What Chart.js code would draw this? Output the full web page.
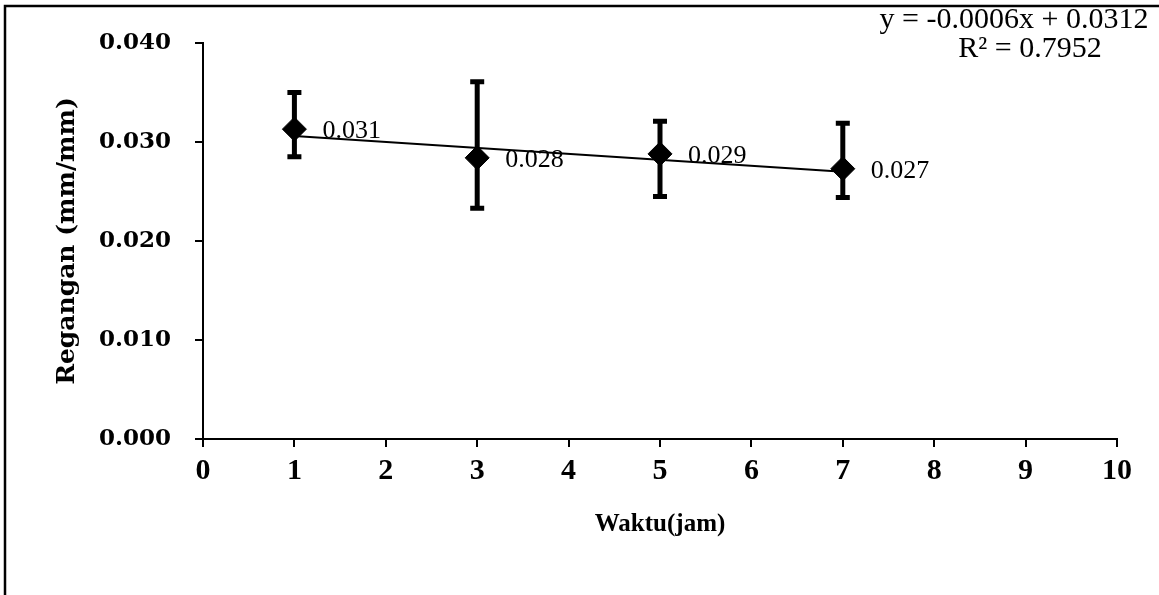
<!DOCTYPE html>
<html>
<head>
<meta charset="utf-8">
<title>Regangan vs Waktu</title>
<script src="https://cdn.jsdelivr.net/npm/chart.js@4.4.0/dist/chart.umd.min.js"></script>
<style>
  html, body { margin: 0; padding: 0; background: #fff; }
  #wrap { width: 1159px; height: 595px; }
</style>
</head>
<body>
<div id="wrap"><canvas id="chart" width="1159" height="595"></canvas></div>
<script>
// data regangan per waktu pengujian
const waktu = [1, 3, 5, 7];
const regangan = [0.0313, 0.0284, 0.0288, 0.0273];
const batasAtas = [0.0352, 0.0363, 0.0323, 0.0321];
const batasBawah = [0.0283, 0.0231, 0.0243, 0.0242];

const xTicks = [0, 1, 2, 3, 4, 5, 6, 7, 8, 9, 10];
const yTicks = [0.000, 0.010, 0.020, 0.030, 0.040];

// garis tren linear
const trenSlope = -0.0006;
const trenIntercept = 0.0312;
const trenR2 = 0.7952;
const trenX = [1, 7];

const SERIF = '"Liberation Serif", "Times New Roman", serif';
const SERIF_LEBAR = '"DejaVu Serif", serif';

// bingkai luar grafik
const bingkaiPlugin = {
  id: 'bingkai',
  beforeDraw(chart) {
    const ctx = chart.ctx;
    ctx.save();
    ctx.fillStyle = '#fff';
    ctx.fillRect(0, 0, chart.width, chart.height);
    ctx.strokeStyle = '#000';
    ctx.lineWidth = 2.5;
    ctx.beginPath();
    ctx.moveTo(5, chart.height);
    ctx.lineTo(5, 6);
    ctx.lineTo(chart.width, 6);
    ctx.stroke();
    ctx.restore();
  }
};

// error bar + label nilai + persamaan tren
const errorBarPlugin = {
  id: 'errorBar',
  afterDatasetsDraw(chart) {
    const ctx = chart.ctx;
    const xs = chart.scales.x, ys = chart.scales.y;
    ctx.save();
    ctx.strokeStyle = '#000';
    ctx.fillStyle = '#000';
    ctx.lineWidth = 5;
    waktu.forEach((w, i) => {
      const px = xs.getPixelForValue(w);
      const top = ys.getPixelForValue(batasAtas[i]);
      const bot = ys.getPixelForValue(batasBawah[i]);
      ctx.beginPath();
      ctx.moveTo(px, top);
      ctx.lineTo(px, bot);
      ctx.moveTo(px - 7, top + 2);
      ctx.lineTo(px + 7, top + 2);
      ctx.moveTo(px - 7, bot - 2);
      ctx.lineTo(px + 7, bot - 2);
      ctx.stroke();
    });

    ctx.font = '26px ' + SERIF;
    ctx.textAlign = 'left';
    ctx.textBaseline = 'middle';
    waktu.forEach((w, i) => {
      const px = xs.getPixelForValue(w);
      const py = ys.getPixelForValue(regangan[i]);
      ctx.fillText(regangan[i].toFixed(3), px + 28, py + 2);
    });

    ctx.font = '30px ' + SERIF;
    ctx.textAlign = 'center';
    ctx.fillText('y = ' + trenSlope.toFixed(4) + 'x + ' + trenIntercept.toFixed(4), 1014, 20);
    ctx.fillText('R\u00B2 = ' + trenR2.toFixed(4), 1030, 49);
    ctx.restore();
  }
};

new Chart(document.getElementById('chart'), {
  type: 'scatter',
  data: {
    datasets: [
      {
        label: 'Regangan',
        data: waktu.map((w, i) => ({ x: w, y: regangan[i] })),
        pointStyle: 'rectRot',
        pointRadius: 12,
        backgroundColor: '#000',
        borderColor: '#000',
        order: 1
      },
      {
        label: 'Linear',
        type: 'line',
        data: trenX.map(x => ({ x: x, y: trenSlope * x + trenIntercept })),
        borderColor: '#000',
        borderWidth: 2,
        pointRadius: 0,
        fill: false,
        order: 2
      }
    ]
  },
  options: {
    responsive: false,
    devicePixelRatio: 1,
    animation: false,
    layout: { padding: { top: 43, right: 42, left: 0, bottom: 0 } },
    plugins: {
      legend: { display: false },
      tooltip: { enabled: false }
    },
    scales: {
      x: {
        type: 'linear',
        min: 0,
        max: 10,
        afterBuildTicks(scale) { scale.ticks = xTicks.map(v => ({ value: v })); },
        afterFit(scale) { scale.height = 156; },
        ticks: {
          color: '#000',
          font: { family: SERIF, size: 30, weight: 'bold' },
          padding: 6,
          maxRotation: 0
        },
        grid: { drawOnChartArea: false, drawTicks: true, tickLength: 8, color: '#000', lineWidth: 2 },
        border: { color: '#000', width: 2 },
        title: {
          display: true,
          text: 'Waktu(jam)',
          color: '#000',
          font: { family: SERIF, size: 25, weight: 'bold' },
          padding: { top: 0, bottom: 55 }
        }
      },
      y: {
        type: 'linear',
        min: 0,
        max: 0.04,
        afterBuildTicks(scale) { scale.ticks = yTicks.map(v => ({ value: v })); },
        afterFit(scale) { scale.width = 203; },
        ticks: {
          color: '#000',
          font: { family: SERIF_LEBAR, size: 23, weight: 'bold' },
          padding: 24,
          callback: v => v.toFixed(3)
        },
        grid: { drawOnChartArea: false, drawTicks: true, tickLength: 8, color: '#000', lineWidth: 2 },
        border: { color: '#000', width: 2 },
        title: {
          display: true,
          text: 'Regangan (mm/mm)',
          color: '#000',
          font: { family: SERIF_LEBAR, size: 25, weight: 'bold' },
          padding: { top: 52, bottom: 0 }
        }
      }
    }
  },
  plugins: [bingkaiPlugin, errorBarPlugin]
});
</script>
</body>
</html>
